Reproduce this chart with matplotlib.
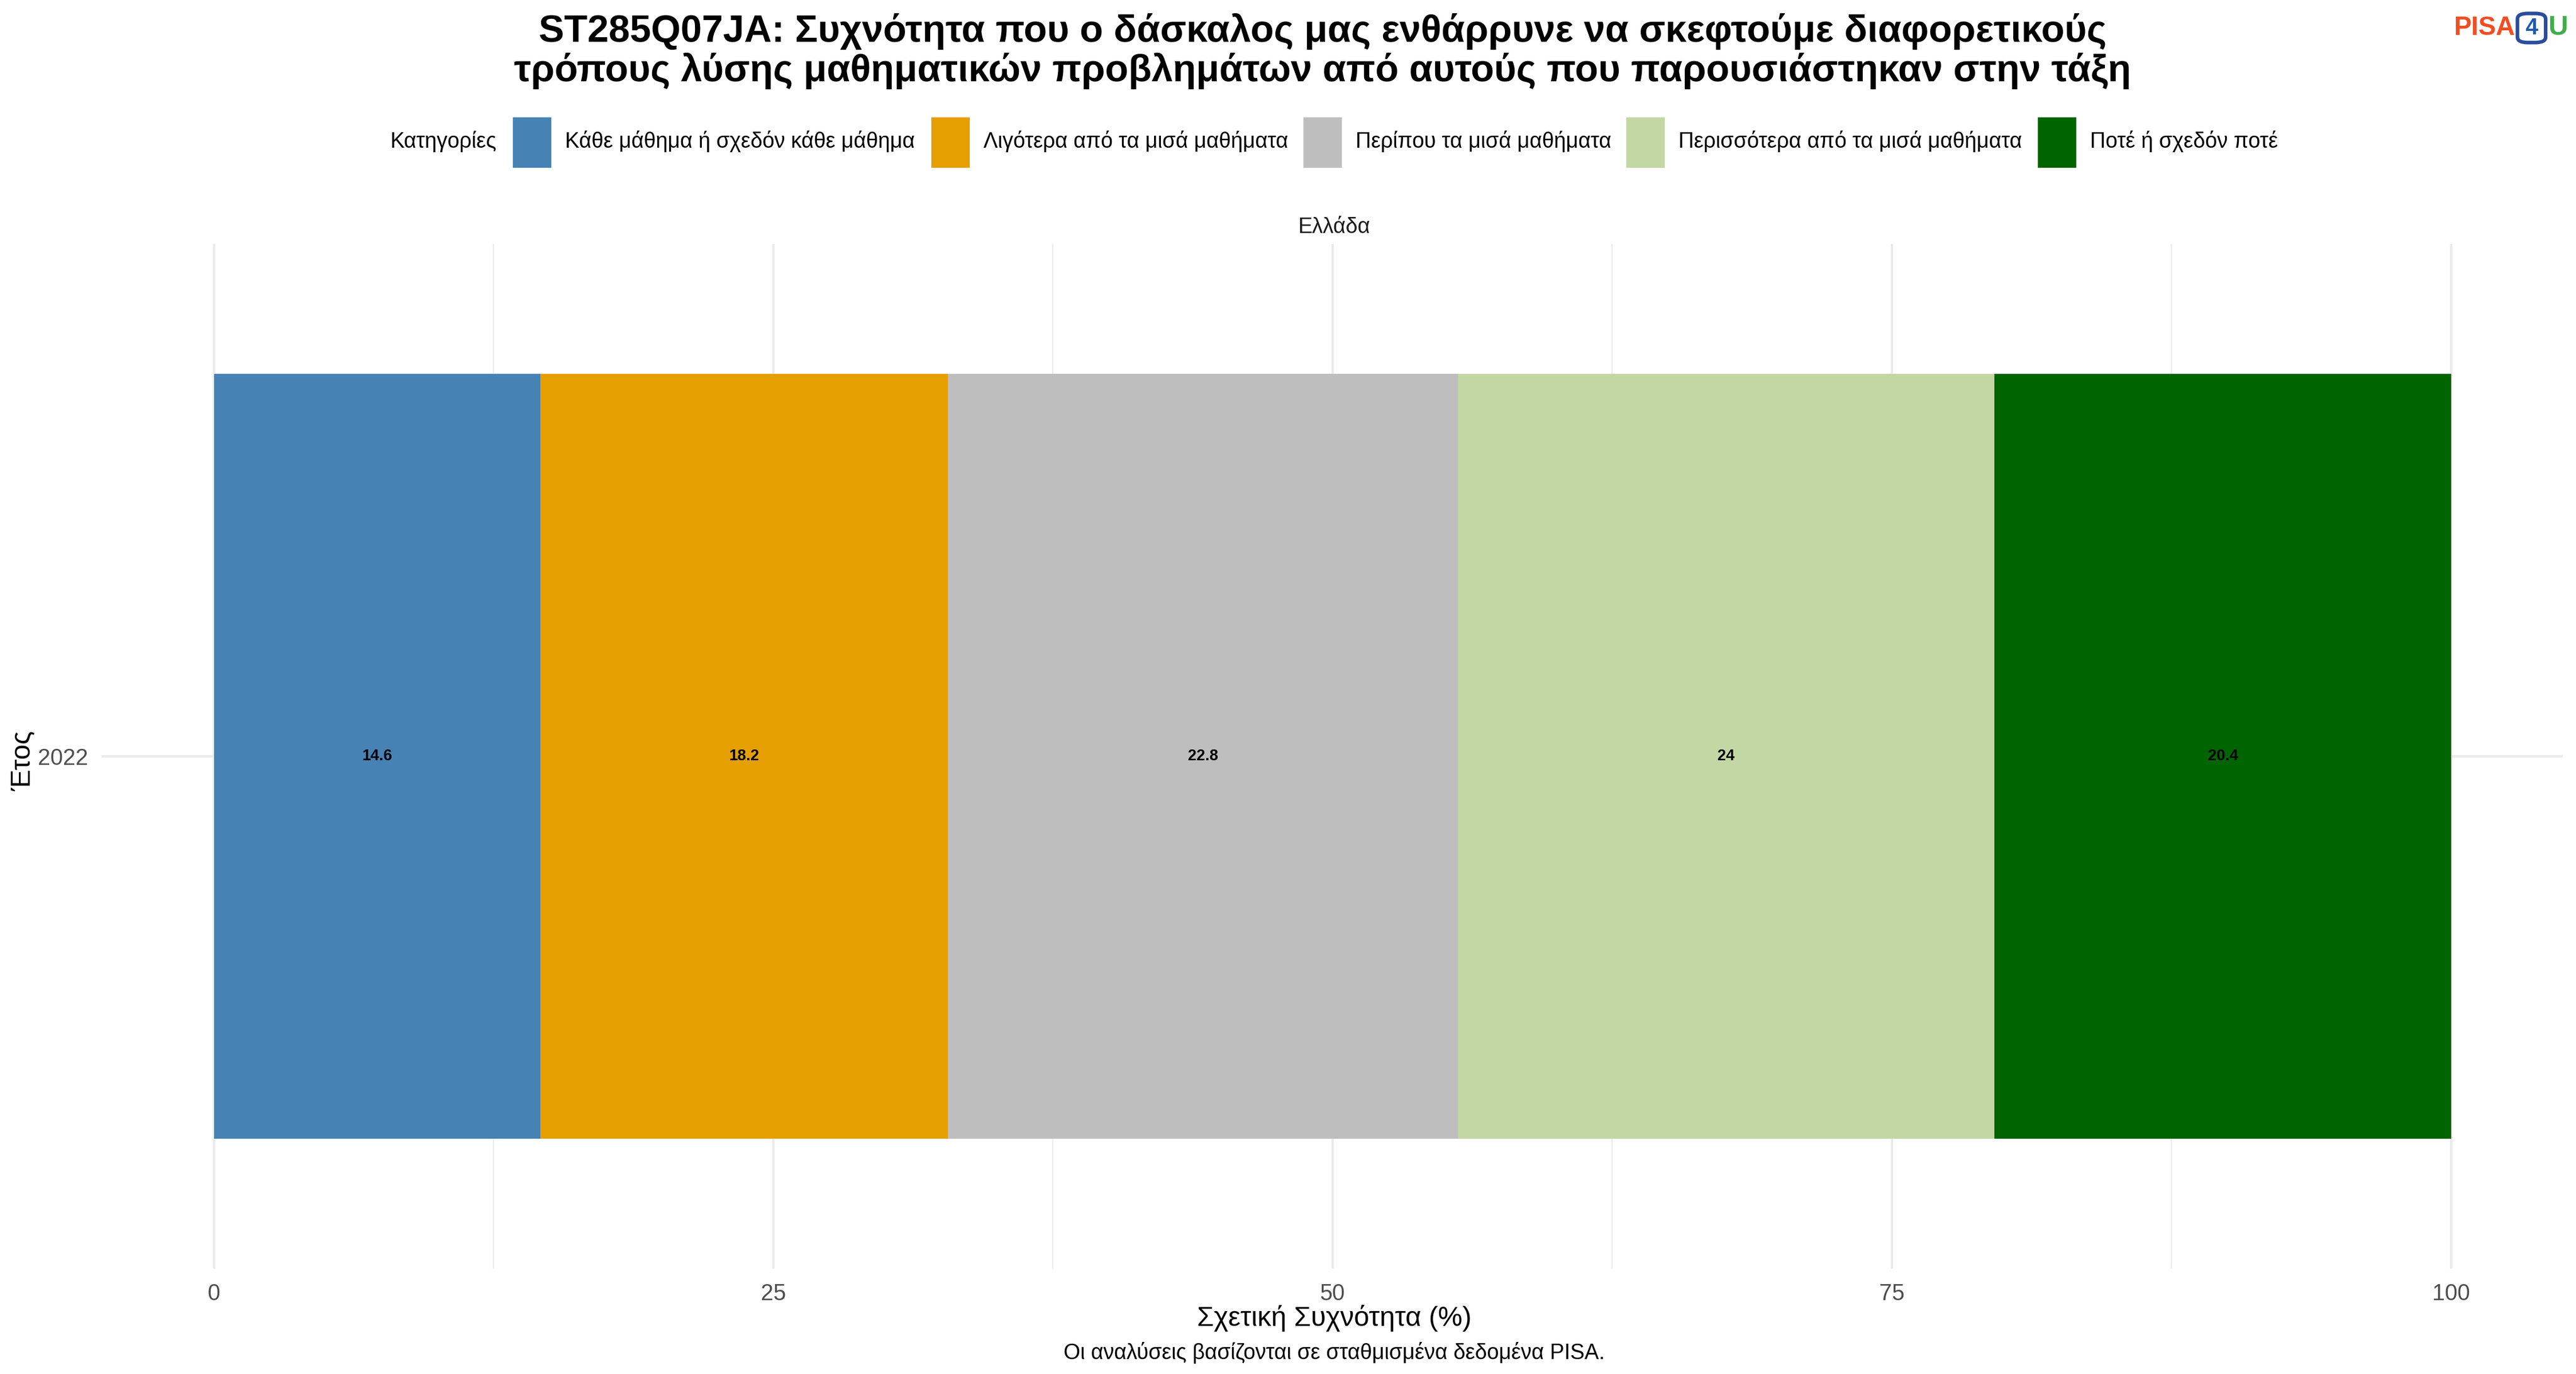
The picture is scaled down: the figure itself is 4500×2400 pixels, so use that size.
import matplotlib
matplotlib.use("Agg")
import matplotlib.pyplot as plt
from matplotlib.patches import Rectangle, FancyBboxPatch

plt.rcParams['font.family'] = ['Liberation Sans', 'DejaVu Sans']

categories = ["Κάθε μάθημα ή σχεδόν κάθε μάθημα", "Λιγότερα από τα μισά μαθήματα",
              "Περίπου τα μισά μαθήματα", "Περισσότερα από τα μισά μαθήματα", "Ποτέ ή σχεδόν ποτέ"]
values = [14.6, 18.2, 22.8, 24.0, 20.4]
labels = ["14.6", "18.2", "22.8", "24", "20.4"]
colors = ["#4682B4", "#E69F00", "#BEBEBE", "#C3D7A4", "#006400"]
years = ["2022"]
xticks = [0, 25, 50, 75, 100]

W, H = 1564, 834
fig = plt.figure(figsize=(15, 8), dpi=300)
ax = fig.add_axes([62/W, 1-770/H, (1556-62)/W, (770-148)/H])
ax.set_xlim(-5, 105)
ax.set_ylim(0.397, 1.603)
left = 0
for v, c, l in zip(values, colors, labels):
    ax.barh(1, v, left=left, height=0.9, color=c, zorder=3)
    ax.text(left + v/2, 1, l, ha='center', va='center', fontsize=6.5, fontweight='bold', zorder=4)
    left += v
ax.set_xticks(xticks)
ax.set_xticks([12.5, 37.5, 62.5, 87.5], minor=True)
ax.set_yticks([1])
ax.set_yticklabels(years)
ax.grid(True, which='major', color='#EBEBEB', lw=1.0, zorder=0)
ax.grid(True, which='minor', axis='x', color='#EBEBEB', lw=0.5, zorder=0)
for s in ax.spines.values():
    s.set_visible(False)
ax.tick_params(length=0, labelsize=9.5, colors='#4D4D4D', pad=6)
ax.tick_params(which='minor', length=0)

cx = 810/W
fig.text(cx, 1-800/H, "Σχετική Συχνότητα (%)", ha='center', va='center', fontsize=11.5)
fig.text(14/W, 1-462/H, "Έτος", ha='center', va='center', fontsize=11.5, rotation=90)

fig.text(cx, 1-138/H, "Ελλάδα", ha='center', va='center', fontsize=9, color='#1A1A1A')
fig.text(803/W, 1-31/H, "ST285Q07JA: Συχνότητα που ο δάσκαλος μας ενθάρρυνε να σκεφτούμε διαφορετικούς\nτρόπους λύσης μαθηματικών προβλημάτων από αυτούς που παρουσιάστηκαν στην τάξη",
         ha='center', va='center', fontsize=16, fontweight='bold', linespacing=1.1)
fig.text(cx, 1-821/H, "Οι αναλύσεις βασίζονται σε σταθμισμένα δεδομένα PISA.", ha='center', va='center', fontsize=9)

# legend
ly = 1-86/H
fig.text(237/W, ly, "Κατηγορίες", ha='left', va='center', fontsize=9)
boxes = [312, 566, 792, 988, 1238]
for bx, c, cat in zip(boxes, colors, categories):
    fig.patches.append(Rectangle((bx/W, 1-101/H), 22/W, 29/H, transform=fig.transFigure, color=c))
    fig.text((bx+31)/W, ly, cat, ha='left', va='center', fontsize=9)

# logo
fig.text(1490/W, 1-17/H, "PISA", ha='left', va='center', fontsize=11, fontweight='bold', color='#F04E23')
fig.patches.append(FancyBboxPatch((1530/W, 1-25/H), 14/W, 16/H, boxstyle="round,pad=0.001,rounding_size=0.004",
                                  transform=fig.transFigure, fill=False, ec='#2B4C9B', lw=1.5))
fig.text(1537/W, 1-17/H, "4", ha='center', va='center', fontsize=9.5, fontweight='bold', color='#1F5BA8')
fig.text(1547/W, 1-17/H, "U", ha='left', va='center', fontsize=11.5, fontweight='bold', color='#3FAE49')

fig.savefig("out.png", dpi=300, facecolor='white')
